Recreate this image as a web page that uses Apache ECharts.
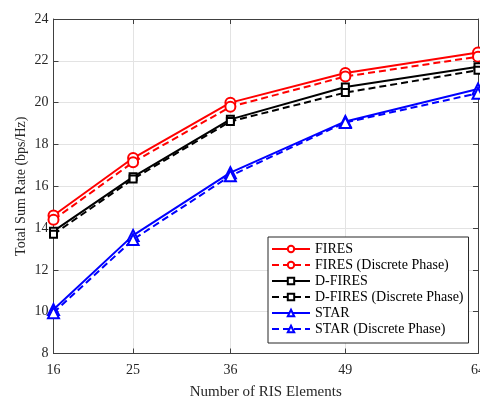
<!DOCTYPE html>
<html>
<head>
<meta charset="utf-8">
<script src="https://cdn.jsdelivr.net/npm/echarts@6/dist/echarts.min.js"></script>
<style>html,body{margin:0;padding:0;background:#fff;}#c{width:480px;height:400px;}</style>
</head>
<body>
<div id="c"></div>
<script>
var xValues = [16, 25, 36, 49, 64];
var yTicks = [8, 10, 12, 14, 16, 18, 20, 22, 24];
var fires = [14.6, 17.35, 20.0, 21.42, 22.4];
var firesDP = [14.4, 17.15, 19.8, 21.25, 22.2];
var dfires = [13.85, 16.45, 19.2, 20.75, 21.72];
var dfiresDP = [13.7, 16.35, 19.1, 20.48, 21.55];
var star = [10.1, 13.65, 16.65, 19.1, 20.65];
var starDP = [9.95, 13.45, 16.5, 19.05, 20.45];

var FONT = 'Liberation Serif';
var AXC = '#404040';

function pairs(v) { return xValues.map(function (x, i) { return [x, v[i]]; }); }
function mk(name, data, color, dashed, symbol, size) {
  return {
    name: name, type: 'line', data: pairs(data),
    symbol: symbol, symbolSize: size, clip: false,
    lineStyle: { color: color, width: 2, type: dashed ? [7, 4] : 'solid' },
    itemStyle: { color: color, borderColor: color, borderWidth: 2 },
    emphasis: { disabled: true }, z: 3
  };
}
function xAx(pos, show) {
  return {
    type: 'value', min: 16, max: 64, position: pos,
    name: show ? 'Number of RIS Elements' : '',
    nameLocation: 'middle', nameGap: 31, nameMoveOverlap: false,
    nameTextStyle: { fontFamily: FONT, fontSize: 15, color: '#262626' },
    axisLine: { show: true, onZero: false, lineStyle: { color: AXC, width: 1 } },
    axisTick: { show: true, inside: true, length: 5, customValues: xValues, lineStyle: { color: AXC } },
    axisLabel: { show: show, customValues: xValues, fontFamily: FONT, fontSize: 14, color: '#262626', margin: 10 },
    splitLine: { show: show, customValues: xValues, lineStyle: { color: '#e3e3e3', width: 1 } }
  };
}
function yAx(pos, show) {
  return {
    type: 'value', min: 8, max: 24, interval: 2, position: pos,
    name: show ? 'Total Sum Rate (bps/Hz)' : '',
    nameLocation: 'middle', nameGap: 25, nameMoveOverlap: false,
    nameTextStyle: { fontFamily: FONT, fontSize: 14, color: '#262626' },
    axisLine: { show: true, onZero: false, lineStyle: { color: AXC, width: 1 } },
    axisTick: { show: true, inside: true, length: 5, lineStyle: { color: AXC } },
    axisLabel: { show: show, fontFamily: FONT, fontSize: 14, color: '#262626', margin: 5 },
    splitLine: { show: show, lineStyle: { color: '#e3e3e3', width: 1 } }
  };
}

var chart = echarts.init(document.getElementById('c'), null, { renderer: 'canvas' });
chart.setOption({
  animation: false,
  backgroundColor: '#fff',
  grid: { left: 53.5, right: 2, top: 19, bottom: 46.5, containLabel: false, outerBoundsMode: 'none' },
  xAxis: [xAx('bottom', true), xAx('top', false)],
  yAxis: [yAx('left', true), yAx('right', false)],
  legend: {
    orient: 'vertical', left: 268, top: 237,
    backgroundColor: '#fff', borderColor: '#262626', borderWidth: 1, borderRadius: 0,
    padding: [5, 5, 7, 3], itemGap: 2, itemWidth: 38, itemHeight: 8,
    textStyle: { fontFamily: FONT, fontSize: 14, color: '#000', lineHeight: 14 },
    data: ['FIRES', 'FIRES (Discrete Phase)', 'D-FIRES', 'D-FIRES (Discrete Phase)', 'STAR', 'STAR (Discrete Phase)']
  },
  series: [
    mk('FIRES', fires, '#ff0000', false, 'emptyCircle', 10),
    mk('FIRES (Discrete Phase)', firesDP, '#ff0000', true, 'emptyCircle', 10),
    mk('D-FIRES', dfires, '#000000', false, 'emptyRect', 7),
    mk('D-FIRES (Discrete Phase)', dfiresDP, '#000000', true, 'emptyRect', 7),
    mk('STAR', star, '#0000ff', false, 'emptyTriangle', 11),
    mk('STAR (Discrete Phase)', starDP, '#0000ff', true, 'emptyTriangle', 11)
  ]
});
</script>
</body>
</html>
